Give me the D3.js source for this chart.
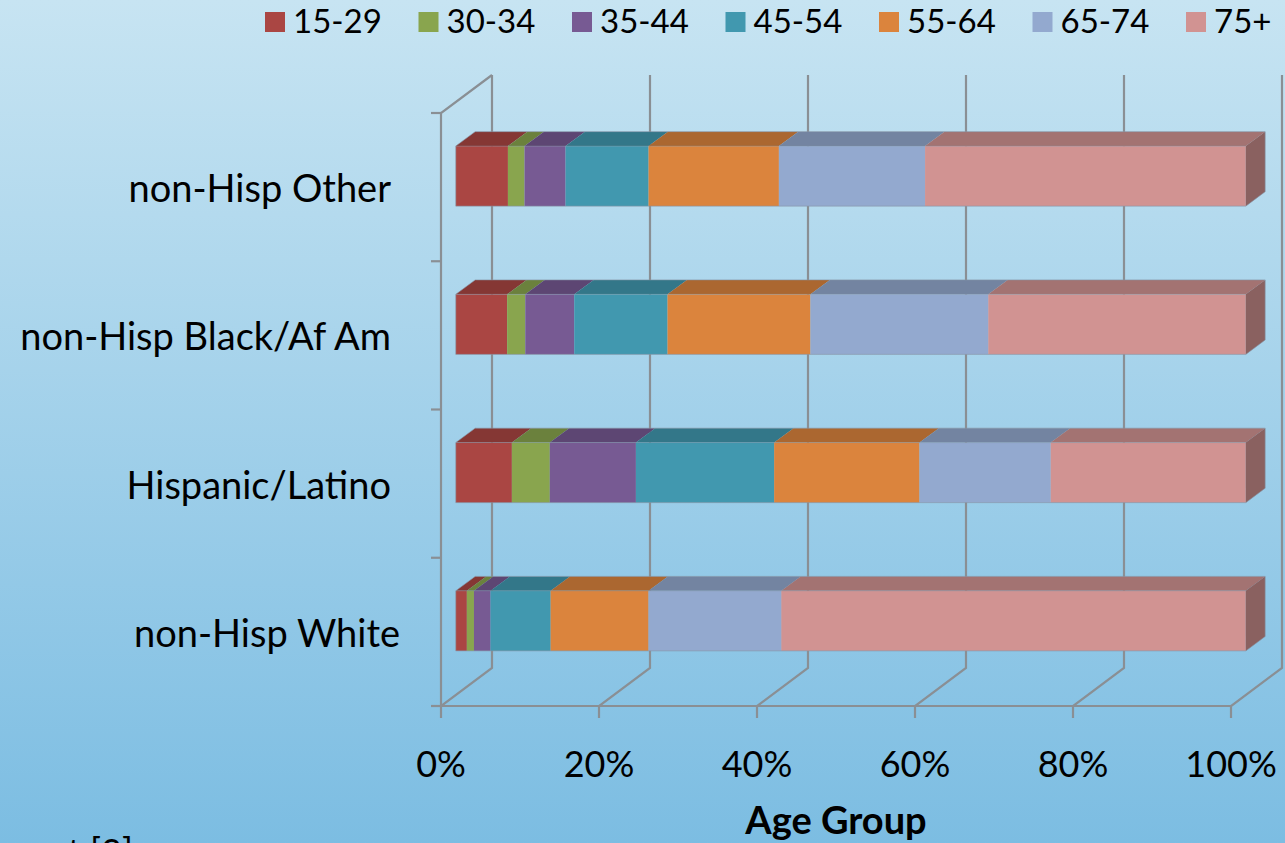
<!DOCTYPE html>
<html>
<head>
<meta charset="utf-8">
<script src="https://cdn.jsdelivr.net/npm/d3@7"></script>
<style>
  html, body { margin: 0; padding: 0; overflow: hidden; }
  svg { display: block; font-family: Lato, "Open Sans", sans-serif; }
</style>
</head>
<body>
<svg id="chart" width="1285" height="843"></svg>
<script>
// Categories, listed top to bottom as drawn
const categories = ["non-Hisp Other", "non-Hisp Black/Af Am", "Hispanic/Latino", "non-Hisp White"];
const ageGroups = ["15-29", "30-34", "35-44", "45-54", "55-64", "65-74", "75+"];

// Percent share of each age group, one value per category (same order as categories)
const age15to29 = [6.6, 6.5, 7.1, 1.4];
const age30to34 = [2.1, 2.3, 4.8, 0.9];
const age35to44 = [5.2, 6.2, 10.9, 2.1];
const age45to54 = [10.5, 11.8, 17.5, 7.6];
const age55to64 = [16.5, 18.1, 18.4, 12.4];
const age65to74 = [18.5, 22.5, 16.6, 16.8];
const age75plus = [40.6, 32.6, 24.7, 58.8];

const tickValues = [0, 0.2, 0.4, 0.6, 0.8, 1];
const axisTitle = "Age Group";

const seriesValues = [age15to29, age30to34, age35to44, age45to54, age55to64, age65to74, age75plus];
const colors = ["#aa4643", "#89a54e", "#775a93", "#4198af", "#db843d", "#93a9cf", "#d19392"];

const rows = categories.map((c, i) => {
  const r = { category: c };
  ageGroups.forEach((g, k) => { r[g] = seriesValues[k][i]; });
  return r;
});

const svg = d3.select("#chart");
const W = 1285, H = 843;

// background
const defs = svg.append("defs");
const grad = defs.append("linearGradient").attr("id", "bg").attr("x1", 0).attr("y1", 0).attr("x2", 0).attr("y2", 1);
grad.append("stop").attr("offset", "0%").attr("stop-color", "#c7e4f2");
grad.append("stop").attr("offset", "100%").attr("stop-color", "#7cbde2");
svg.append("rect").attr("width", W).attr("height", H).attr("fill", "url(#bg)");

// front-plane scales
const x = d3.scaleLinear().domain([0, 1]).range([441, 1231]);
const y = d3.scaleBand().domain(categories).range([113, 706]).paddingInner(0).paddingOuter(0);

// depth vector from front plane to back wall
const depth = { dx: 51, dy: -38 };
const barFront = 0.29, barBack = 0.67;   // fraction of depth occupied by bars
const barFrac = 0.405;                    // bar thickness relative to band

const gridColor = "#8a8f94";
const grid = svg.append("g").attr("fill", "none").attr("stroke", gridColor).attr("stroke-width", 2.2);

const yTop = y.range()[0], yBot = y.range()[1];

// back wall verticals and floor diagonals at each tick
tickValues.forEach(t => {
  const fx = x(t);
  const bx = fx + depth.dx;
  grid.append("path").attr("d", d3.line()([
    [fx, yBot + 12], [fx, yBot], [bx, yBot + depth.dy], [bx, yTop + depth.dy]
  ]));
});
// floor front edge
grid.append("line").attr("x1", x(0)).attr("x2", x(1)).attr("y1", yBot).attr("y2", yBot);
// left wall: front vertical and top edge
grid.append("path").attr("d", d3.line()([
  [x(0) + depth.dx, yTop + depth.dy], [x(0), yTop], [x(0), yBot]
]));
// category ticks on the left
const bounds = categories.map(c => y(c)).concat([yBot]);
bounds.forEach(b => {
  grid.append("line").attr("x1", x(0) - 10).attr("x2", x(0)).attr("y1", b).attr("y2", b);
});

// stacked data, normalised to 100%
const stack = d3.stack().keys(ageGroups).offset(d3.stackOffsetExpand);
const series = stack(rows);

const fOff = { dx: depth.dx * barFront, dy: depth.dy * barFront };
const bOff = { dx: depth.dx * (barBack - barFront), dy: depth.dy * (barBack - barFront) };

const shade = (c, k) => { const h = d3.rgb(c); return d3.rgb(h.r * k, h.g * k, h.b * k).formatHex(); };

const bars = svg.append("g");
categories.forEach((c, ci) => {
  const cy = y(c) + y.bandwidth() / 2 + fOff.dy;
  const hh = y.bandwidth() * barFrac / 2;
  const t = cy - hh, b = cy + hh;
  const g = bars.append("g");
  series.forEach((s, si) => {
    const d = s[ci];
    const x0 = x(d[0]) + fOff.dx, x1 = x(d[1]) + fOff.dx;
    const col = colors[si];
    // top face
    g.append("path")
      .attr("d", d3.line()([[x0, t], [x1, t], [x1 + bOff.dx, t + bOff.dy], [x0 + bOff.dx, t + bOff.dy]]) + "Z")
      .attr("fill", shade(col, 0.78));
    // front face
    g.append("rect").attr("x", x0).attr("y", t).attr("width", Math.max(0, x1 - x0)).attr("height", b - t)
      .attr("fill", col);
    if (si === series.length - 1) {
      // right side face
      g.append("path")
        .attr("d", d3.line()([[x1, t], [x1 + bOff.dx, t + bOff.dy], [x1 + bOff.dx, b + bOff.dy], [x1, b]]) + "Z")
        .attr("fill", shade(col, 0.66));
    }
  });
  // thin outline of the whole box
  const xs = x(0) + fOff.dx, xe = x(1) + fOff.dx;
  g.append("path")
    .attr("d", d3.line()([[xs, b], [xs, t], [xs + bOff.dx, t + bOff.dy], [xe + bOff.dx, t + bOff.dy],
      [xe + bOff.dx, b + bOff.dy], [xe, b], [xs, b]]))
    .attr("fill", "none").attr("stroke", "#8795a5").attr("stroke-opacity", 0.6).attr("stroke-width", 1);
  g.append("line").attr("x1", xs).attr("x2", xe).attr("y1", t).attr("y2", t)
    .attr("stroke", "#8795a5").attr("stroke-opacity", 0.4).attr("stroke-width", 1);
});

// category labels
const labelRight = 400;
svg.append("g").selectAll("text").data(categories).join("text")
  .attr("x", (d, i) => i < 3 ? labelRight - 9 : labelRight)
  .attr("y", d => y(d) + y.bandwidth() / 2 + 15)
  .attr("text-anchor", "end")
  .attr("font-size", 38)
  .attr("fill", "#000")
  .text(d => d);

// x tick labels
svg.append("g").selectAll("text").data(tickValues).join("text")
  .attr("x", d => x(d))
  .attr("y", 777)
  .attr("text-anchor", "middle")
  .attr("font-size", 36)
  .attr("fill", "#000")
  .text(d3.format(".0%"));

// axis title
svg.append("text")
  .attr("x", (x(0) + x(1)) / 2)
  .attr("y", 834)
  .attr("text-anchor", "middle")
  .attr("font-size", 38)
  .attr("font-weight", "bold")
  .attr("fill", "#000")
  .text(axisTitle);

// legend
const legend = svg.append("g");
ageGroups.forEach((gname, i) => {
  const lx = 265 + i * 153.5;
  legend.append("rect").attr("x", lx).attr("y", 12).attr("width", 20).attr("height", 20).attr("fill", colors[i]);
  legend.append("text").attr("x", lx + 28).attr("y", 33).attr("font-size", 33).attr("fill", "#000").text(gname);
});

// footnote running off the bottom edge
const note = svg.append("text").attr("y", 865).attr("font-size", 36).attr("fill", "#000").text("percent [3]");
const pre = note.node().getSubStringLength(0, 8);
note.attr("x", 90 - pre);
</script>
</body>
</html>
